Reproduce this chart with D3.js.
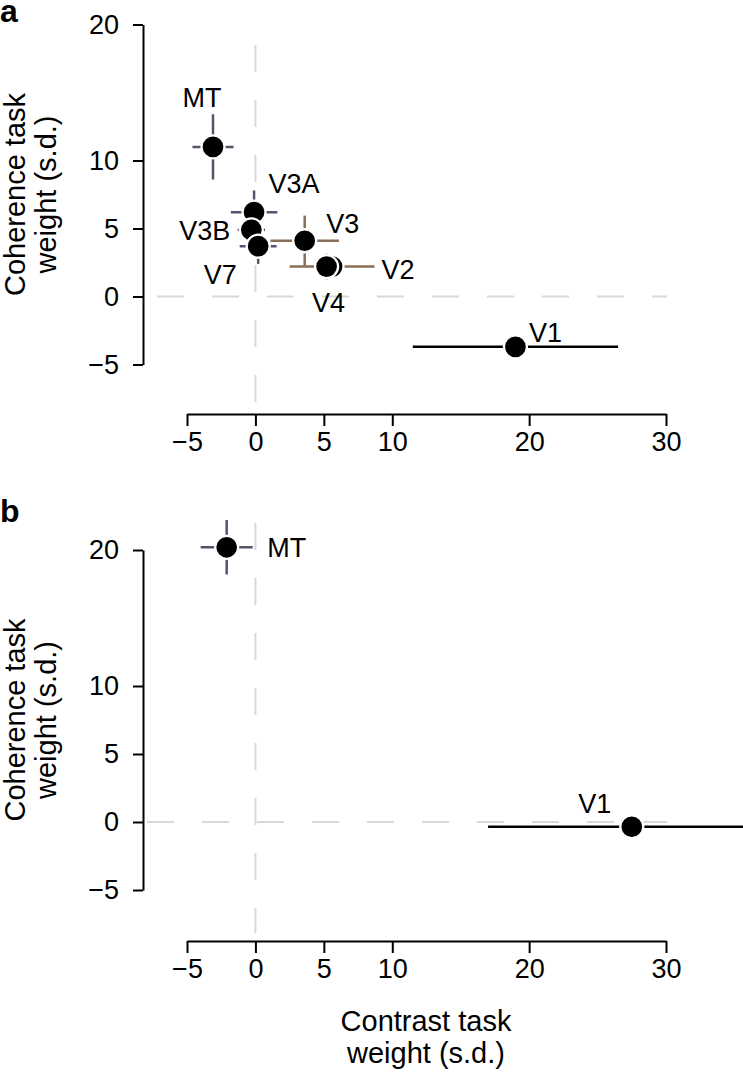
<!DOCTYPE html>
<html>
<head>
<meta charset="utf-8">
<script src="https://cdn.jsdelivr.net/npm/d3@7"></script>
<style>
  html, body { margin: 0; padding: 0; background: #fff; }
  svg { display: block; }
  text { font-family: "Liberation Sans", Arial, Helvetica, sans-serif; fill: #000; }
</style>
</head>
<body>
<svg id="chart" width="743" height="1073"></svg>
<script>
// ---------- DATA ----------
// Panel a
const areasA = ["MT", "V3A", "V3B", "V7", "V3", "V2", "V4", "V1"];
const contrastA = [-3.1, -0.1, -0.3, 0.2, 3.6, 5.6, 5.2, 19.0];
const coherenceA = [11.0, 6.2, 4.9, 3.7, 4.1, 2.2, 2.2, -3.7];
const contrastErrA = [1.5, 1.7, 1.0, 1.35, 2.5, 3.1, 0.5, 7.5];
const coherenceErrA = [2.4, 1.6, 1.2, 1.3, 1.85, 0.5, 0.95, 0.5];
// Panel b
const areasB = ["MT", "V1"];
const contrastB = [-2.1, 27.5];
const coherenceB = [20.2, -0.35];
const contrastErrB = [1.9, 10.5];
const coherenceErrB = [2.0, 0.5];
// Axis ticks
const xTicks = [-5, 0, 5, 10, 20, 30];
const yTicks = [-5, 0, 5, 10, 20];

// ---------- STYLE / LAYOUT ----------
const errColor = {MT: "#55546a", V3A: "#55546a", V3B: "#55546a", V7: "#55546a",
                  V3: "#8a6f56", V2: "#8a6f56", V4: "#9a8a7a", V1: "#000"};
const labelPosA = {MT: [-11, -40, "middle"], V3A: [40, -19, "middle"], V3B: [-21, 10, "end"],
                   V7: [-38, 38, "middle"], V3: [38, -8, "middle"], V2: [66, 12, "middle"],
                   V4: [2, 45, "middle"], V1: [30, -5, "middle"]};
const labelPosB = {MT: [60, 10, "middle"], V1: [-37, -14, "middle"]};

const svg = d3.select("#chart");
const FS_TICK = 27, FS_TITLE = 29, FS_LAB = 27;

function panel(cfg) {
  const x = d3.scaleLinear().domain([-5, 30]).range([187, 666]);
  const y = d3.scaleLinear().domain([-5, 20]).range([cfg.yBottom, cfg.yTop]);
  const g = svg.append("g");

  // reference dashed lines
  g.append("line")
    .attr("x1", cfg.hDash[0]).attr("x2", cfg.hDash[1])
    .attr("y1", y(0)).attr("y2", y(0))
    .attr("stroke", "#d8d8d8").attr("stroke-width", 2).attr("stroke-dasharray", "27,28");
  g.append("line")
    .attr("x1", x(0)).attr("x2", x(0))
    .attr("y1", cfg.vDash[0]).attr("y2", cfg.vDash[1])
    .attr("stroke", "#d8d8d8").attr("stroke-width", 2).attr("stroke-dasharray", "27,28");

  // y axis
  const ya = g.append("g").attr("transform", "translate(143,0)")
    .call(d3.axisLeft(y).tickValues(yTicks).tickSize(10).tickSizeOuter(0).tickPadding(14).tickFormat(d => d < 0 ? "\u2212" + Math.abs(d) : d));
  // x axis
  const xa = g.append("g").attr("transform", `translate(0,${cfg.xAxisY})`)
    .call(d3.axisBottom(x).tickValues(xTicks).tickSize(12).tickSizeOuter(0).tickPadding(6).tickFormat(d => d < 0 ? "\u2212" + Math.abs(d) : d));
  [ya, xa].forEach(a => {
    a.select(".domain").attr("stroke", "#000").attr("stroke-width", 2);
    a.selectAll(".tick line").attr("stroke", "#000").attr("stroke-width", 2);
    a.selectAll(".tick text").attr("font-size", FS_TICK).attr("fill", "#000")
      .style("font-family", '"Liberation Sans", Arial, Helvetica, sans-serif');
  });

  // y title
  const yc = (cfg.yTop + cfg.yBottom) / 2;
  g.append("text").attr("transform", `translate(25,${yc}) rotate(-90)`)
    .attr("text-anchor", "middle").attr("font-size", FS_TITLE).text("Coherence task");
  g.append("text").attr("transform", `translate(56,${yc}) rotate(-90)`)
    .attr("text-anchor", "middle").attr("font-size", FS_TITLE).text("weight (s.d.)");

  // panel letter
  g.append("text").attr("x", 0).attr("y", cfg.letterY).attr("font-size", 32)
    .attr("font-weight", "bold").text(cfg.letter);

  const pts = cfg.areas.map((a, i) => ({a, cx: cfg.cx[i], cy: cfg.cy[i], ex: cfg.ex[i], ey: cfg.ey[i]}));

  // error bars
  const eb = g.append("g");
  pts.forEach(p => {
    eb.append("line").attr("x1", x(p.cx - p.ex)).attr("x2", x(p.cx + p.ex))
      .attr("y1", y(p.cy)).attr("y2", y(p.cy))
      .attr("stroke", errColor[p.a]).attr("stroke-width", 2.5);
    eb.append("line").attr("x1", x(p.cx)).attr("x2", x(p.cx))
      .attr("y1", y(p.cy - p.ey)).attr("y2", y(p.cy + p.ey))
      .attr("stroke", errColor[p.a]).attr("stroke-width", 2.5);
  });
  // points
  g.append("g").selectAll("circle").data(pts).join("circle")
    .attr("cx", p => x(p.cx)).attr("cy", p => y(p.cy)).attr("r", 11.5)
    .attr("fill", "#000").attr("stroke", "#fff").attr("stroke-width", 2.3);
  // labels
  g.append("g").selectAll("text").data(pts).join("text")
    .attr("x", p => x(p.cx) + cfg.labels[p.a][0])
    .attr("y", p => y(p.cy) + cfg.labels[p.a][1])
    .attr("text-anchor", p => cfg.labels[p.a][2])
    .attr("font-size", FS_LAB).text(p => p.a);
  return {x, y, g};
}

panel({letter: "a", letterY: 22, yTop: 24.5, yBottom: 364.5, xAxisY: 414,
       hDash: [157, 667], vDash: [45, 405],
       areas: areasA, cx: contrastA, cy: coherenceA, ex: contrastErrA, ey: coherenceErrA,
       labels: labelPosA});

const pb = panel({letter: "b", letterY: 522, yTop: 550, yBottom: 890, xAxisY: 941,
       hDash: [147, 667], vDash: [523, 933],
       areas: areasB, cx: contrastB, cy: coherenceB, ex: contrastErrB, ey: coherenceErrB,
       labels: labelPosB});

// x title (panel b)
svg.append("text").attr("x", 426).attr("y", 1031).attr("text-anchor", "middle")
  .attr("font-size", FS_TITLE).text("Contrast task");
svg.append("text").attr("x", 426).attr("y", 1063).attr("text-anchor", "middle")
  .attr("font-size", FS_TITLE).text("weight (s.d.)");
</script>
</body>
</html>
